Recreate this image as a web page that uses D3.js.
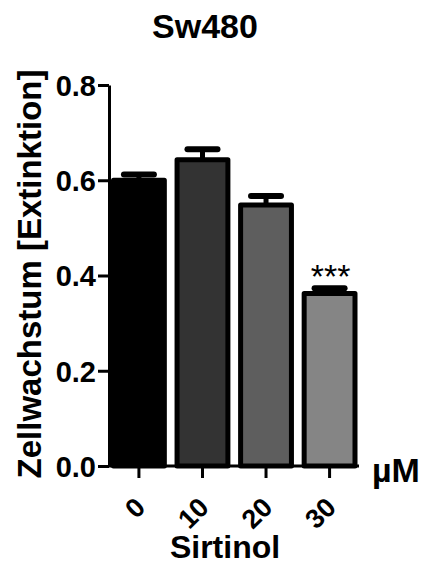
<!DOCTYPE html>
<html>
<head>
<meta charset="utf-8">
<script src="https://cdn.jsdelivr.net/npm/d3@7"></script>
<style>
  body { margin: 0; background: #fff; }
  text { font-family: "Liberation Sans", Arial, sans-serif; font-weight: bold; fill: #000; }
</style>
</head>
<body>
<svg width="424" height="567"></svg>
<script>
let categories = ['0', '10', '20', '30']
let means = [0.600, 0.643, 0.548, 0.362]
let errors = [0.012, 0.022, 0.019, 0.011]
let fills = ['#000000', '#333333', '#5e5e5e', '#858585']
let yTicks = [0.0, 0.2, 0.4, 0.6, 0.8]
let stars = ['', '', '', '***']

let svg = d3.select('svg')

let x = d3.scaleBand().domain(categories).range([113.5, 355]).paddingInner(0.2).paddingOuter(0)
let y = d3.scaleLinear().domain([0, 0.8]).range([466, 85])

// title
svg.append('text')
  .attr('x', 205).attr('y', 38)
  .attr('text-anchor', 'middle')
  .style('font-size', '34px')
  .text('Sw480')

// error bars (drawn before bars so the stem sits behind)
let err = svg.append('g')
categories.forEach(function(c, i) {
  let cx = x(c) + x.bandwidth() / 2
  err.append('line')
    .attr('x1', cx).attr('x2', cx)
    .attr('y1', y(means[i])).attr('y2', y(means[i] + errors[i]))
    .attr('stroke', '#000').attr('stroke-width', 5)
  err.append('line')
    .attr('x1', cx - 15).attr('x2', cx + 15)
    .attr('y1', y(means[i] + errors[i])).attr('y2', y(means[i] + errors[i]))
    .attr('stroke', '#000').attr('stroke-width', 6).attr('stroke-linecap', 'round')
})

// bars
svg.append('g').selectAll('rect')
  .data(categories)
  .enter()
  .append('rect')
    .attr('x', function(d) { return x(d) })
    .attr('y', function(d, i) { return y(means[i]) })
    .attr('width', x.bandwidth())
    .attr('height', function(d, i) { return y(0) - y(means[i]) })
    .attr('fill', function(d, i) { return fills[i] })
    .attr('stroke', '#000')
    .attr('stroke-width', 5)
    .attr('stroke-linejoin', 'round')

// significance stars
svg.append('g').selectAll('text')
  .data(categories)
  .enter()
  .append('text')
    .attr('x', function(d) { return x(d) + x.bandwidth() / 2 + 1 })
    .attr('y', function(d, i) { return y(means[i] + errors[i]) })
    .attr('text-anchor', 'middle')
    .style('font-size', '34px')
    .style('font-weight', 'normal')
    .text(function(d, i) { return stars[i] })

// y axis
let yAxis = svg.append('g')
  .attr('transform', 'translate(109,0)')
  .call(d3.axisLeft(y).tickValues(yTicks).tickFormat(d3.format('.1f')).tickSize(11).tickSizeOuter(0).tickPadding(2))
yAxis.select('.domain').attr('stroke-width', 3)
yAxis.selectAll('.tick line').attr('stroke-width', 3)
yAxis.selectAll('.tick text')
  .attr('dy', '0.36em')
  .style('font-size', '29px')
  .style('font-family', '"Liberation Sans", Arial, sans-serif')
  .style('font-weight', 'bold')

// x axis
let xAxis = svg.append('g')
  .attr('transform', 'translate(0,466)')
  .call(d3.axisBottom(x).tickSize(12).tickSizeOuter(0))
xAxis.select('.domain').attr('d', 'M108,0H359').attr('stroke-width', 3)
xAxis.selectAll('.tick line').attr('stroke-width', 3)
xAxis.selectAll('.tick text')
  .attr('text-anchor', 'end')
  .attr('dy', null)
  .attr('transform', 'translate(8,43) rotate(-45)')
  .attr('y', 0)
  .attr('x', 0)
  .style('font-size', '27px')
  .style('font-family', '"Liberation Sans", Arial, sans-serif')
  .style('font-weight', 'bold')

// unit label
svg.append('text')
  .attr('x', 372).attr('y', 482)
  .style('font-size', '34px')
  .text('µM')

// x axis title
svg.append('text')
  .attr('x', 225).attr('y', 558)
  .attr('text-anchor', 'middle')
  .style('font-size', '32px')
  .text('Sirtinol')

// y axis title
svg.append('text')
  .attr('transform', 'translate(41,274) rotate(-90)')
  .attr('text-anchor', 'middle')
  .style('font-size', '33px')
  .text('Zellwachstum [Extinktion]')
</script>
</body>
</html>
